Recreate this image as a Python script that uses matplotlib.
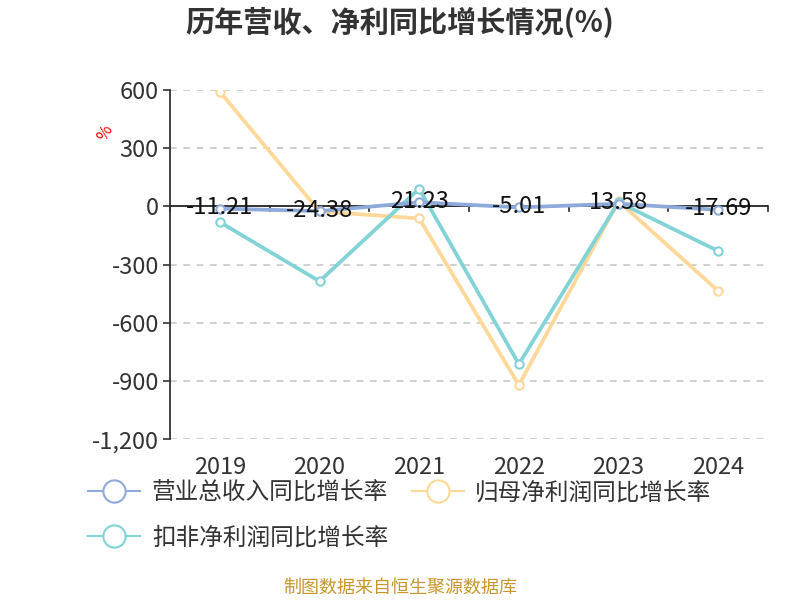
import numpy as np
import matplotlib.pyplot as plt
from matplotlib.lines import Line2D

plt.rcParams['font.family'] = ['Noto Sans CJK SC', 'DejaVu Sans']

years = ["2019", "2020", "2021", "2022", "2023", "2024"]
revenue = [-11.21, -24.38, 21.23, -5.01, 13.58, -17.69]
net_profit = [591, -26, -62, -921, 27, -436]
deducted_profit = [-81, -386, 91, -813, 22, -230]
series_names = ["营业总收入同比增长率", "归母净利润同比增长率", "扣非净利润同比增长率"]
colors = ["#8eaadb", "#fed898", "#82d3d6"]
yticks = [600, 300, 0, -300, -600, -900, -1200]

fig = plt.figure(figsize=(8, 6), dpi=100)
ax = fig.add_axes([0.2125, 0.268, 0.7475, 0.582])

x = np.arange(len(years))
for vals, c in zip([net_profit, deducted_profit, revenue], [colors[1], colors[2], colors[0]]):
    ax.plot(x, vals, color=c, lw=2.7, marker='o', ms=6, mfc='white',
            mec=c, mew=1.5, zorder=3, solid_joinstyle='round')

for xi, v in zip(x, revenue):
    ax.text(xi, v + 5, f"{v:.2f}", ha='center', va='center', fontsize=17,
            color='#111111', zorder=5)

ax.set_xlim(-0.5, len(years) - 0.5)
ax.set_ylim(-1200, 600)
ax.set_yticks(yticks)
ax.set_yticklabels([f"{t:,}" for t in yticks], fontsize=17, color='#333333')
ax.set_xticks(x)
ax.set_xticklabels(years, fontsize=17, color='#333333')
ax.tick_params(axis='x', length=0, pad=12)
ax.tick_params(axis='y', length=5, width=1.2, color='#333333', pad=3)

for t in yticks:
    if t != 0:
        ax.axhline(t, color='#c8c8c8', lw=1.2, ls=(0, (4, 4)), zorder=1)

# zero axis line with ticks
ax.axhline(0, color='#222222', lw=1.3, zorder=2)
for b in np.arange(-0.5, len(years)):
    ax.plot([b, b], [0, -25], color='#222222', lw=1.2, zorder=2, clip_on=False)

for s in ['top', 'right', 'bottom']:
    ax.spines[s].set_visible(False)
ax.spines['left'].set_color('#333333')
ax.spines['left'].set_linewidth(1.3)

fig.text(0.132, 0.778, "%", color='red', fontsize=12, rotation=60, ha='center', va='center')

fig.text(0.5, 0.962, "历年营收、净利同比增长情况(%)", ha='center', va='center',
         fontsize=21, fontweight='bold', color='#333333')

handles = [Line2D([0], [0], color=c, lw=1.5, marker='o', ms=16, mfc='white',
                  mec=c, mew=1.5) for c in colors]
order = [0, 2, 1]
fig.legend([handles[i] for i in order], [series_names[i] for i in order],
           loc='upper left', bbox_to_anchor=(0.11, 0.198), ncol=2, frameon=False,
           fontsize=17, handlelength=2.2, handletextpad=0.5, columnspacing=1.0,
           labelspacing=0.95, labelcolor='#333333', borderaxespad=0, borderpad=0)

fig.text(0.5, 0.02, "制图数据来自恒生聚源数据库", ha='center', va='center',
         fontsize=13, color='#c8962a')

fig.savefig("out.png", dpi=100)
